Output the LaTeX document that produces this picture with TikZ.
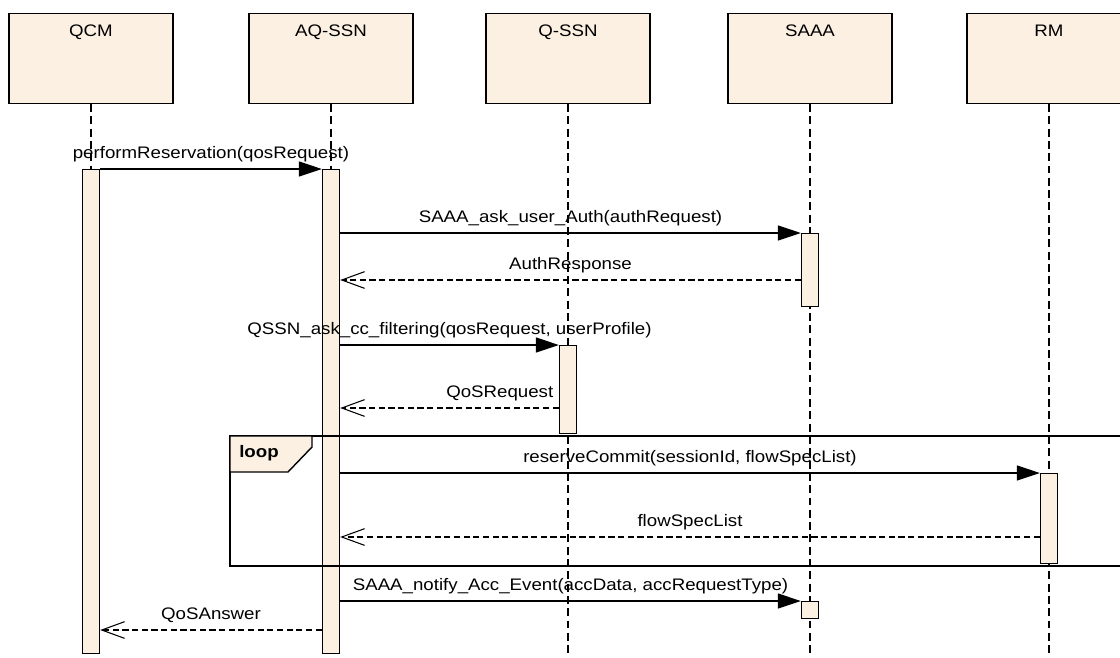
\documentclass[tikz,border=0pt]{standalone}
\usepackage{fontspec}
\setmainfont{Liberation Sans}[FakeStretch=1.12]
\usetikzlibrary{arrows.meta,positioning}
\definecolor{lifebg}{RGB}{251,240,226}

\begin{document}
\begin{tikzpicture}[x=0.02cm, y=-0.02cm, font=\fontsize{9.5}{11}\selectfont,
        head/.style={rectangle, draw, fill=lifebg, line width=0.8pt, minimum width=3.28cm, inner sep=0pt, text height=13pt, text depth=38pt, anchor=north},
        act/.style={rectangle, draw, fill=lifebg, line width=0.8pt, minimum width=0.34cm, inner sep=0pt, anchor=north},
        lifeline/.style={dash pattern=on 4.5pt off 2.5pt, line width=0.7pt},
        call/.style={-{Triangle[length=13pt, width=8.5pt]}, line width=0.6pt},
        reply/.style={-{Straight Barb[length=13pt, width=9.5pt]}, dash pattern=on 3.5pt off 2pt, line width=0.6pt},
        msg/.style={inner sep=3pt, text depth=2.5pt}
    ]
        \useasboundingbox (0,0) rectangle (1120,657);
        % Lifeline heads
        \node[head] (qcm) at (91,13) {QCM};
        \node[head] (aqssn) at (331,13) {AQ-SSN};
        \node[head] (qssn) at (568,13) {Q-SSN};
        \node[head] (saaa) at (810,13) {SAAA};
        \node[head] (rm) at (1049,13) {RM};
        % Lifelines
        \foreach \n in {qcm,aqssn,qssn,saaa,rm}
            \draw[lifeline] (\n.south) -- (\n.south |- 0,657);
        % Activations
        \node[act, minimum height=9.68cm] (qcmact) at (qcm.south |- 0,169) {};
        \node[act, minimum height=9.68cm] (aqact) at (aqssn.south |- 0,169) {};
        \node[act, minimum height=1.46cm] (saaaact) at (saaa.south |- 0,233) {};
        \node[act, minimum height=1.76cm] (qssnact) at (qssn.south |- 0,345) {};
        \node[act, minimum height=1.8cm] (rmact) at (rm.south |- 0,473) {};
        \node[act, minimum height=0.34cm] (saaaack) at (saaa.south |- 0,601) {};
        % Loop fragment
        \draw[line width=1pt] (230,436) rectangle (1130,566);
        \draw[line width=0.8pt, fill=lifebg] (230,436) -- (312,436) -- (312,447) -- (288,472) -- (230,472) -- cycle;
        \node[font=\fontsize{9.5}{11}\selectfont\bfseries] (looptag) at (259,453) {loop};
        % Messages
        \draw[call] (qcmact.north east) -- node[msg, above] {performReservation(qosRequest)} (aqact.north west);
        \draw[call] (aqact.east |- saaaact.north) -- node[msg, above] {SAAA\_ask\_user\_Auth(authRequest)} (saaaact.north west);
        \draw[reply] (saaaact.west |- 0,280) -- node[msg, above] {AuthResponse} (aqact.east |- 0,280);
        \draw[call] (aqact.east |- qssnact.north) -- node[msg, above] {QSSN\_ask\_cc\_filtering(qosRequest, userProfile)} (qssnact.north west);
        \draw[reply] (qssnact.west |- 0,408) -- node[msg, above, pos=0.27] {QoSRequest} (aqact.east |- 0,408);
        \draw[call] (aqact.east |- rmact.north) -- node[msg, above] {reserveCommit(sessionId, flowSpecList)} (rmact.north west);
        \draw[reply] (rmact.west |- 0,537) -- node[msg, above] {flowSpecList} (aqact.east |- 0,537);
        \draw[call] (aqact.east |- saaaack.north) -- node[msg, above] {SAAA\_notify\_Acc\_Event(accData, accRequestType)} (saaaack.north west);
        \draw[reply] (aqact.west |- 0,630) -- node[msg, above] {QoSAnswer} (qcmact.east |- 0,630);
    \end{tikzpicture}
\end{document}
